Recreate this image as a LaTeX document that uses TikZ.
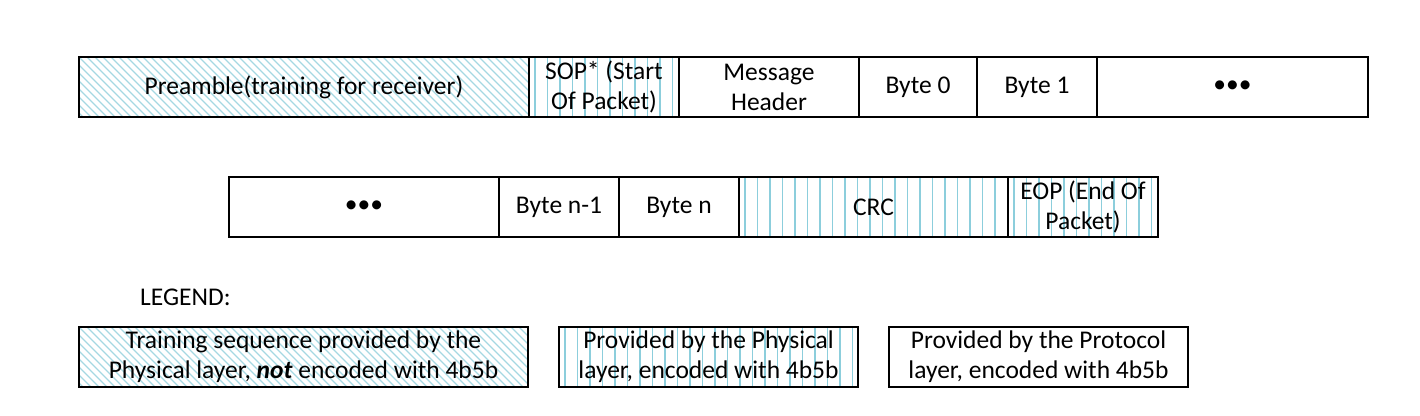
\documentclass[tikz,border=0pt]{standalone}
\usepackage{fontspec}
\setmainfont{Carlito}
\usetikzlibrary{backgrounds}
\definecolor{hatch}{RGB}{165,216,226}
\definecolor{vhatch}{RGB}{140,206,220}
\tikzset{
  cell/.style={draw=black, line width=1.4pt, minimum height=60pt, inner sep=0pt, outer sep=0pt,
    align=center, anchor=north west, font=\fontsize{25.5}{30}\selectfont},
  lcell/.style={cell, font=\fontsize{25.5}{30}\selectfont},
  hatchline/.style={draw=hatch, line width=1.4pt},
  vline/.style={draw=vhatch, line width=1.1pt},
}
\newcommand\diaghatch[1]{%
  \begin{scope}
    \clip (#1.south west) rectangle (#1.north east);
    \foreach \i in {-64,-56,...,460}
      \draw[hatchline] ([xshift=\i pt]#1.north west) -- ([xshift={\i pt+60pt}]#1.south west);
  \end{scope}}
\newcommand\verthatch[2]{%
  \begin{scope}
    \clip (#1.south west) rectangle (#1.north east);
    \foreach \i in {6,18.5,...,#2}
      \draw[vline] ([xshift=\i pt]#1.north west) -- ([xshift=\i pt]#1.south west);
  \end{scope}}
\begin{document}
\begin{tikzpicture}[x=1pt,y=-1pt]
\useasboundingbox (0,0) rectangle (1420,415);
% row 1
\node[cell, minimum width=450pt] (pre) at (79,57) {Preamble(training for receiver)};
\node[cell, minimum width=150pt] (sop) at (529,57) {SOP* (Start\\Of Packet)};
\node[cell, minimum width=180pt] (mh) at (679,57) {Message\\Header};
\node[cell, minimum width=118pt] (b0) at (859,57) {Byte 0};
\node[cell, minimum width=120pt] (b1) at (977,57) {Byte 1};
\node[cell, minimum width=271pt] (d1) at (1097,57) {•••};
% row 2
\node[cell, minimum width=270pt] (d2) at (229,177) {•••};
\node[cell, minimum width=120pt] (bn1) at (499,177) {Byte n-1};
\node[cell, minimum width=120pt] (bn) at (619,177) {Byte n};
\node[cell, minimum width=269pt] (crc) at (739,177) {CRC};
\node[cell, minimum width=150pt] (eop) at (1008,177) {EOP (End Of\\Packet)};
% legend
\node[anchor=base west, inner sep=0pt, font=\fontsize{25.5}{30}\selectfont] (leg) at (140,305) {LEGEND:};
\node[lcell, minimum width=449pt] (l1) at (79,327) {Training sequence provided by the\\Physical layer, \textbf{\textit{not}} encoded with 4b5b};
\node[lcell, minimum width=299pt] (l2) at (559,327) {Provided by the Physical\\layer, encoded with 4b5b};
\node[lcell, minimum width=299pt] (l3) at (889,327) {Provided by the Protocol\\layer, encoded with 4b5b};
\begin{pgfonlayer}{background}
  \diaghatch{pre}
  \diaghatch{l1}
  \verthatch{sop}{150}
  \verthatch{crc}{269}
  \verthatch{eop}{150}
  \verthatch{l2}{299}
\end{pgfonlayer}
\end{tikzpicture}
\end{document}
